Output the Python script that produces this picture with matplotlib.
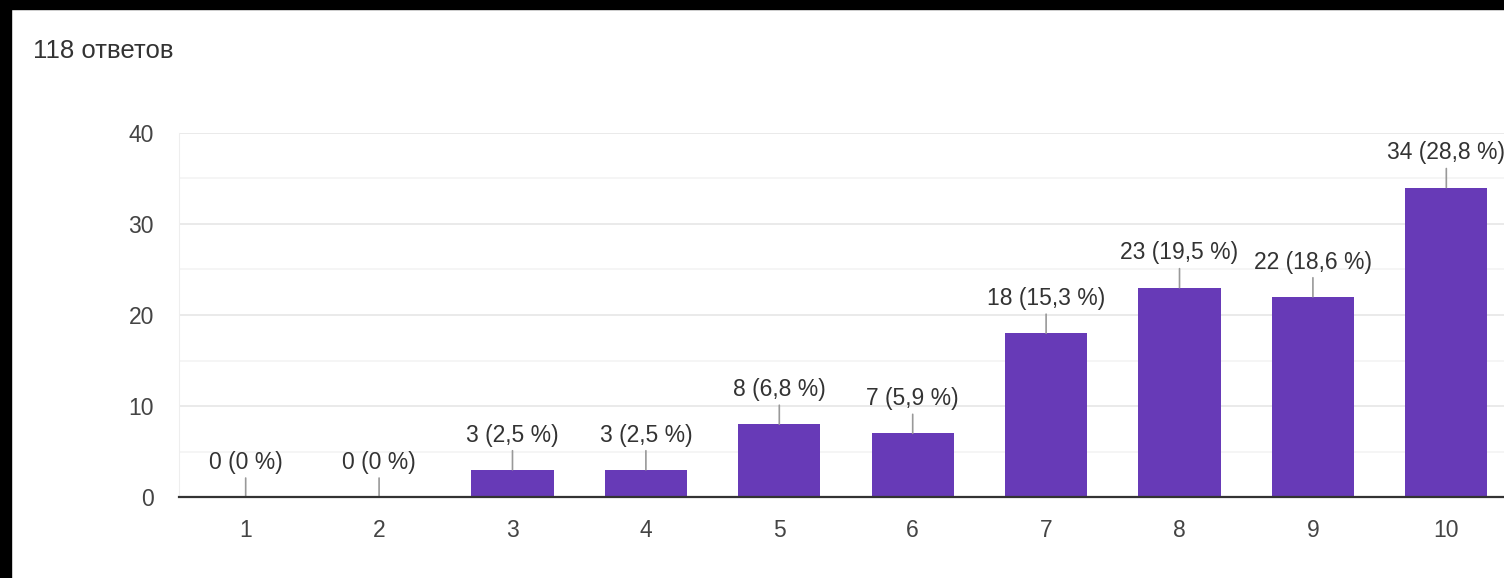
import matplotlib.pyplot as plt
from matplotlib.patches import Rectangle

# оценки 1..10, количество ответов
categories = ["1", "2", "3", "4", "5", "6", "7", "8", "9", "10"]
counts = [0, 0, 3, 3, 8, 7, 18, 23, 22, 34]
percents = ["0", "0", "2,5", "2,5", "6,8", "5,9", "15,3", "19,5", "18,6", "28,8"]
total_label = "118 ответов"

BAR = "#673ab7"
TXT = "#333333"

plt.rcParams["font.family"] = ["Liberation Sans", "DejaVu Sans"]

fig = plt.figure(figsize=(15.04, 5.78), dpi=100)
fig.patch.set_facecolor("white")

# область графика вылезает за правый край (как на скриншоте)
ax = fig.add_axes([0.119, 0.140, 0.887, 0.630])
x = list(range(1, len(categories) + 1))
ax.bar(x, counts, width=0.615, color=BAR, zorder=3)

ax.set_xlim(0.5, 10.5)
ax.set_ylim(0, 40)
ax.set_yticks([0, 10, 20, 30, 40])
ax.set_yticks([5, 15, 25, 35], minor=True)
ax.set_xticks(x)
ax.set_xticklabels(categories)
ax.grid(axis="y", which="major", color="#e6e6e6", lw=1.2, zorder=0)
ax.grid(axis="y", which="minor", color="#f3f3f3", lw=1.2, zorder=0)
ax.tick_params(axis="both", which="both", length=0, labelsize=16.5, labelcolor="#444444")
ax.tick_params(axis="y", pad=18)
ax.tick_params(axis="x", pad=16)

for s in ["top", "right"]:
    ax.spines[s].set_visible(False)
ax.spines["left"].set_color("#eeeeee")
ax.spines["bottom"].set_color(TXT)
ax.spines["bottom"].set_linewidth(1.6)
ax.spines["bottom"].set_zorder(4)

for xi, c, p in zip(x, counts, percents):
    ax.annotate(f"{c} ({p} %)", xy=(xi, c), xytext=(0, 25), textcoords="offset points",
                ha="center", va="center", fontsize=16.5, color=TXT, annotation_clip=False,
                arrowprops=dict(arrowstyle="-", color="#999999", lw=1.2, shrinkA=1, shrinkB=0))

fig.text(0.022, 0.912, total_label, fontsize=18.5, color=TXT, ha="left", va="center")

# чёрные полосы по краям скриншота
fig.patches.append(Rectangle((0, 1 - 9 / 578), 1, 9 / 578, transform=fig.transFigure,
                             color="black", zorder=10))
fig.patches.append(Rectangle((0, 0), 11 / 1504, 1, transform=fig.transFigure,
                             color="black", zorder=10))

fig.savefig("out.png", dpi=100, facecolor="white")
